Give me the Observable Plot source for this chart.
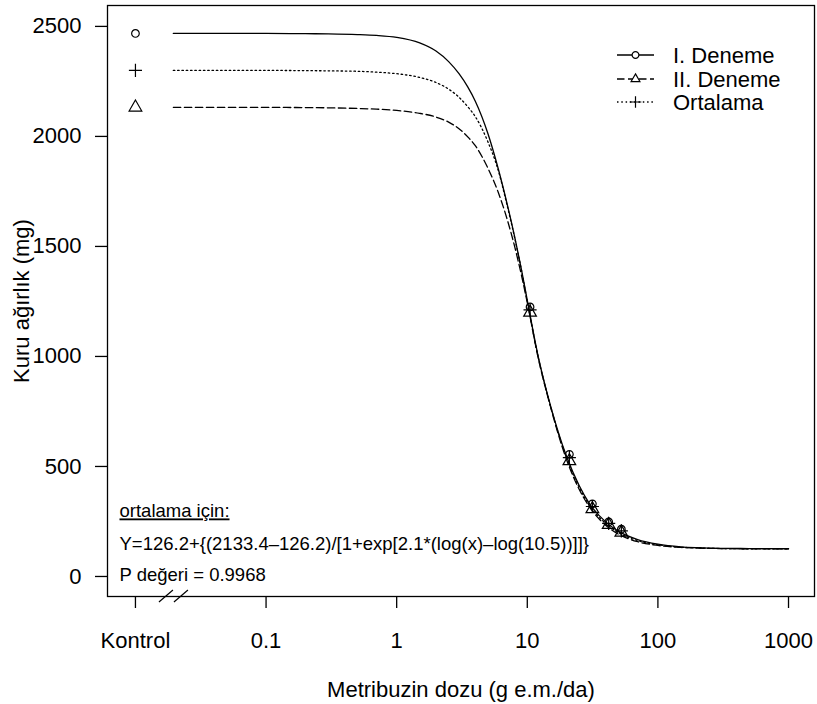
<!DOCTYPE html>
<html><head><meta charset="utf-8">
<script src="https://cdn.jsdelivr.net/npm/d3@7"></script>
<script src="https://cdn.jsdelivr.net/npm/@observablehq/plot@0.6"></script>
<style>
body{margin:0;background:#fff}
#chart{width:817px;height:704px}
</style>
</head><body><div id="chart"></div>
<script>
// ---- data ----
const xTickValues = [0.01, 0.1, 1, 10, 100, 1000];
const xTickLabels = ["Kontrol", "0.1", "1", "10", "100", "1000"];
const yTickValues = [0, 500, 1000, 1500, 2000, 2500];
const seriesNames = ["I. Deneme", "II. Deneme", "Ortalama"];

const controlDose = 0.01; // "Kontrol" position on the log axis
const controlI = 2468;
const controlII = 2132;
const controlOrt = 2300;

const pointDoses = [10.5, 21, 31.5, 42, 52.5];
const pointsI   = [1225, 555, 330, 248, 215];
const pointsII  = [1200, 525, 307, 235, 200];
const pointsOrt = [1212, 540, 318, 241, 207];

const curveDoses = [0.0195, 0.05, 0.1, 0.2, 0.3, 0.5, 0.7, 1, 1.5, 2, 2.5, 3, 3.5, 4, 5, 6, 7, 8, 9, 10, 12, 15, 20, 25, 30, 40, 50, 70, 100, 150, 200, 300, 500, 1000];
const curveI   = [2468, 2468, 2468, 2467, 2466, 2463, 2459, 2450, 2425, 2388, 2340, 2285, 2225, 2160, 2012, 1852, 1695, 1545, 1398, 1255, 1012, 780, 545, 412, 330, 247, 205, 168, 147, 135, 131, 128, 127, 126];
const curveII  = [2132, 2132, 2132, 2131, 2130, 2127, 2124, 2118, 2105, 2088, 2065, 2035, 1998, 1958, 1855, 1745, 1625, 1500, 1372, 1245, 1005, 775, 530, 395, 315, 232, 192, 158, 141, 132, 129, 127, 126, 126];
const curveOrt = [2300, 2300, 2300, 2299, 2298, 2296, 2292, 2285, 2268, 2245, 2215, 2178, 2135, 2090, 1975, 1845, 1688, 1540, 1395, 1250, 1008, 778, 538, 404, 322, 240, 199, 163, 144, 133, 130, 127, 126, 126];

const annotationLines = [
  "ortalama için:",
  "Y=126.2+{(2133.4–126.2)/[1+exp[2.1*(log(x)–log(10.5))]]}",
  "P değeri = 0.9968"
];
const xLabel = "Metribuzin dozu (g e.m./da)";
const yLabel = "Kuru ağırlık (mg)";

// ---- build tables ----
const curveValues = [curveI, curveII, curveOrt];
const pointValues = [pointsI, pointsII, pointsOrt];
const controlValues = [controlI, controlII, controlOrt];
const curveRows = [];
const pointRows = [];
seriesNames.forEach((s, k) => {
  curveDoses.forEach((d, i) => curveRows.push({series: s, dose: d, value: curveValues[k][i]}));
  pointRows.push({series: s, dose: controlDose, value: controlValues[k]});
  pointDoses.forEach((d, i) => pointRows.push({series: s, dose: d, value: pointValues[k][i]}));
});

const font = "'Liberation Sans', Arial, Helvetica, sans-serif";
const dashes = {"I. Deneme": null, "II. Deneme": "7.5,3.5", "Ortalama": "1.5,2.8"};
const symbols = {"I. Deneme": "circle", "II. Deneme": "triangle", "Ortalama": "plus"};
const radii = {"I. Deneme": 3.8, "II. Deneme": 4.7, "Ortalama": 4.3};
const d3sym = {"I. Deneme": d3.symbolCircle, "II. Deneme": d3.symbolTriangle2, "Ortalama": d3.symbolPlus};

function legendMark(index, scales, values, dims) {
  const g = d3.create("svg:g");
  const x0 = 617, x1 = 654, xm = 635.5, xt = 673;
  const rows = [55, 79, 102];
  seriesNames.forEach((s, i) => {
    const y = rows[i];
    g.append("line").attr("x1", x0).attr("x2", x1).attr("y1", y).attr("y2", y)
      .attr("stroke", "black").attr("stroke-width", 1.3)
      .attr("stroke-dasharray", dashes[s]);
    g.append("path").attr("transform", `translate(${xm},${y})`)
      .attr("d", d3.symbol(d3sym[s], Math.PI * radii[s] * radii[s] * 0.8)())
      .attr("fill", "white").attr("stroke", "black").attr("stroke-width", 1.2);
    g.append("text").attr("x", xt).attr("y", y).attr("dy", "0.36em")
      .attr("text-anchor", "start")
      .attr("font-size", 22).attr("font-family", font).attr("fill", "black").text(s);
  });
  return g.node();
}

function breakMark(index, scales, values, dims) {
  const g = d3.create("svg:g").attr("stroke", "black").attr("stroke-width", 1.2);
  const yb = dims.height - dims.marginBottom;
  const xc = scales.x(controlDose);
  [31, 46].forEach(off => {
    g.append("line").attr("x1", xc + off - 7).attr("x2", xc + off + 7)
      .attr("y1", yb + 6).attr("y2", yb - 6);
  });
  return g.node();
}

const marks = [
  Plot.frame({stroke: "black", strokeWidth: 1.3}),
  Plot.axisX({
    ticks: xTickValues,
    tickFormat: d => xTickLabels[xTickValues.indexOf(d)],
    tickSize: 12, tickPadding: 24, strokeWidth: 1.3,
    label: xLabel, labelAnchor: "center", labelArrow: "none", labelOffset: 100
  }),
  Plot.axisY({
    ticks: yTickValues, tickFormat: d => String(d),
    tickSize: 12, tickPadding: 14, strokeWidth: 1.3,
    label: yLabel, labelAnchor: "center", labelArrow: "none", labelOffset: 94
  })
];
seriesNames.forEach(s => {
  marks.push(Plot.line(curveRows.filter(r => r.series === s), {
    x: "dose", y: "value", stroke: "black", strokeWidth: 1.3,
    strokeDasharray: dashes[s], curve: "monotone-x"
  }));
  marks.push(Plot.dot(pointRows.filter(r => r.series === s), {
    x: "dose", y: "value", symbol: () => symbols[s], r: radii[s],
    stroke: "black", strokeWidth: 1.2, fill: "none"
  }));
});
const annDy = [-85, -52, -21];
annotationLines.forEach((t, i) => {
  marks.push(Plot.text([t], {
    text: d => d, frameAnchor: "bottom-left", textAnchor: "start", lineAnchor: "middle",
    dx: 12, dy: annDy[i], fontSize: 18.5, fill: "black"
  }));
});
marks.push(legendMark, breakMark);

const chart = Plot.plot({
  width: 817, height: 704,
  marginLeft: 107, marginRight: 3, marginTop: 5, marginBottom: 108,
  style: {fontFamily: font, fontSize: "22px", color: "black", background: "white", overflow: "visible"},
  x: {type: "log", domain: [0.00611, 1581]},
  y: {domain: [-91, 2595]},
  symbol: {type: "identity"},
  marks
});
d3.select(chart).selectAll("text").filter(function() { return this.textContent === annotationLines[0]; })
  .style("text-decoration", "underline");
document.getElementById("chart").appendChild(chart);
</script>
</body></html>
